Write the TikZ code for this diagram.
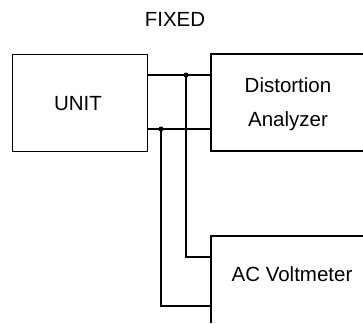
\documentclass[tikz,border=0pt]{standalone}
\usepackage{fontspec}
\setmainfont{Liberation Sans}
\begin{document}
\begin{tikzpicture}[x=1pt,y=-1pt,
  wire/.style={line width=1.1pt},
  box/.style={line width=1.1pt},
  lbl/.style={anchor=base,inner sep=0pt,font=\fontsize{20.5}{24}\selectfont},
  dot/.style={circle,fill=black,inner sep=0pt,minimum size=5pt}]
\useasboundingbox (0,0) rectangle (363,323);
% boxes
\node[box,draw,anchor=north west,minimum width=135pt,minimum height=97pt,inner sep=0pt] (unit) at (12,54) {};
\draw[box] (363,54) -- (211,54) coordinate (dtl) -- (211,151) coordinate (dbl) -- (363,151);
\draw[box] (363,236) -- (211,236) coordinate (vtl) -- (211,323);
% labels
\node[lbl] (fixed) at (175,26.5) {FIXED};
\node[lbl] (unitlbl) at (78,111) {UNIT};
\node[lbl] (dist) at (288,93) {Distortion};
\node[lbl] (anal) at (288,126) {Analyzer};
\node[lbl] (acv) at (292,281) {AC Voltmeter};
% connection points
\coordinate (u1) at (147,75);
\coordinate (u2) at (147,129);
\coordinate (d1) at (211,75);
\coordinate (d2) at (211,129);
\coordinate (v1) at (211,257);
\coordinate (v2) at (211,306);
\node[dot] (j1) at (186,75) {};
\node[dot] (j2) at (161,129) {};
% wires
\draw[wire] (u1) -- (d1);
\draw[wire] (u2) -- (d2);
\draw[wire] (j1.center) |- (v1);
\draw[wire] (j2.center) |- (v2);
\end{tikzpicture}
\end{document}
